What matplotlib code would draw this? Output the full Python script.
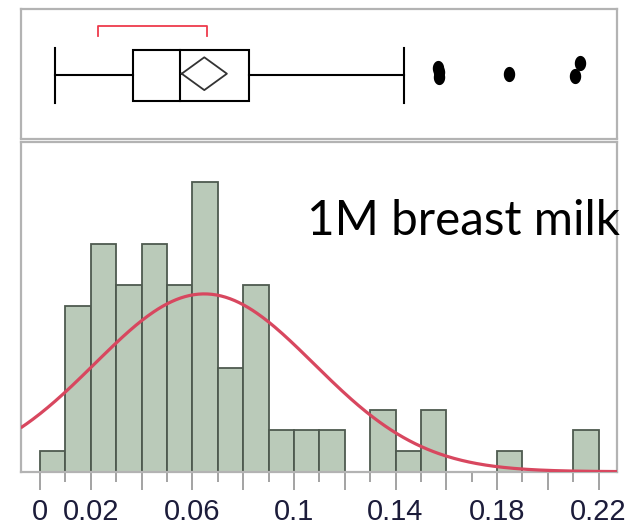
import numpy as np
import matplotlib
matplotlib.use("Agg")
import matplotlib.pyplot as plt
from matplotlib.patches import Rectangle
from matplotlib.path import Path
from matplotlib.ticker import MultipleLocator, FuncFormatter

# ---------------- data ----------------
bin_start = 0.0
bin_width = 0.01
counts = [1, 8, 11, 9, 11, 9, 14, 5, 9, 2, 2, 2, 0, 3, 1, 3, 0, 0, 1, 0, 0, 2]

whisker_low = 0.0059
q1 = 0.0365
median = 0.0553
q3 = 0.0825
whisker_high = 0.1434
mean = 0.0647
mean_ci = (0.0558, 0.0736)
shortest_half = (0.0227, 0.0657)
outliers = [0.1568, 0.1570, 0.1572, 0.1845, 0.2108, 0.2125]

fit_mean = 0.0647
fit_sd = 0.0432

tick_labels_shown = ["0", "0.02", "0.06", "0.1", "0.14", "0.18", "0.22"]
title_text = "1M breast milk"

# ---------------- layout ----------------
W, H = 633, 530
fig = plt.figure(figsize=(W / 100, H / 100), dpi=100)

xlim = (-0.0076, 0.2273)
left_px, right_px = 20.7, 617.2
ax_top = fig.add_axes([left_px / W, (H - 138.5) / H, (right_px - left_px) / W, (138.5 - 9.3) / H])
ax = fig.add_axes([left_px / W, (H - 471.7) / H, (right_px - left_px) / W, (471.7 - 141.7) / H])

border_col = "#b3b3b3"
for a in (ax_top, ax):
    a.set_xlim(*xlim)
    for s in a.spines.values():
        s.set_color(border_col)
        s.set_linewidth(1.6)

# ---------------- histogram ----------------
edges = bin_start + bin_width * np.arange(len(counts) + 1)
ax.bar(edges[:-1], counts, width=bin_width, align="edge",
       color="#bacab9", edgecolor="#4e5a4f", linewidth=1.3, zorder=2)

n_total = sum(counts)
xs = np.linspace(xlim[0], xlim[1], 400)
dens = n_total * bin_width / (fit_sd * np.sqrt(2 * np.pi)) * np.exp(-0.5 * ((xs - fit_mean) / fit_sd) ** 2)
ax.plot(xs, dens, color="#d8475f", linewidth=2.3, zorder=3, solid_capstyle="butt")
ax.set_ylim(0, 15.94)
ax.set_yticks([])

# ticks
ax.xaxis.set_major_locator(MultipleLocator(0.02))
ax.xaxis.set_minor_locator(MultipleLocator(0.01))
label_map = {round(float(t), 2): t for t in tick_labels_shown}
ax.xaxis.set_major_formatter(FuncFormatter(lambda v, p: label_map.get(round(v, 2), "")))
ax.tick_params(axis="x", which="major", length=13, width=1.1, color="#8a8a8a",
               direction="out", pad=6, labelsize=21, labelcolor="#1c1c3a")
ax.tick_params(axis="x", which="minor", length=7.2, width=1.1, color="#8a8a8a", direction="out")
for lab in ax.get_xticklabels():
    lab.set_family(["Liberation Sans", "DejaVu Sans"])

# ---------------- box plot ----------------
ax_top.set_ylim(-63, 66.2)
ax_top.set_xticks([])
ax_top.set_yticks([])
lw = 1.5
box_h = 25.5
cap_h = 27.2
ax_top.add_patch(Rectangle((q1, -box_h), q3 - q1, 2 * box_h, fill=False,
                           edgecolor="black", linewidth=lw, zorder=3))
ax_top.plot([median, median], [-box_h, box_h], color="black", linewidth=lw)
ax_top.plot([whisker_low, q1], [0, 0], color="black", linewidth=lw)
ax_top.plot([q3, whisker_high], [0, 0], color="black", linewidth=lw)
ax_top.plot([whisker_low, whisker_low], [-cap_h, cap_h], color="black", linewidth=lw)
ax_top.plot([whisker_high, whisker_high], [-cap_h, cap_h], color="black", linewidth=lw)

# mean diamond
dc, dh = 1.8, 16.4
ax_top.plot([mean_ci[0], mean, mean_ci[1], mean, mean_ci[0]],
            [dc, dc + dh, dc, dc - dh, dc], color="#333333", linewidth=1.3)

# shortest half bracket
ax_top.plot([shortest_half[0], shortest_half[0], shortest_half[1], shortest_half[1]],
            [39.5, 49.5, 49.5, 39.5], color="#ee3a4c", linewidth=1.3)

# outliers (ellipse-shaped markers, vertical jitter)
jitter = [7.5, 3.0, -1.5, 1.5, -0.5, 12.8]
t = np.linspace(0, 2 * np.pi, 40)
ell = Path(np.column_stack([0.75 * np.cos(t), np.sin(t)]), closed=True)
ax_top.scatter(outliers, jitter, marker=ell, s=120, color="black", zorder=4, linewidths=0)

# ---------------- annotation ----------------
fig.text(306.7 / W, (H - 235) / H, title_text, fontsize=34.3, family=["Lato", "DejaVu Sans"],
         color="black", ha="left", va="baseline")

fig.savefig("out.png", dpi=100)
